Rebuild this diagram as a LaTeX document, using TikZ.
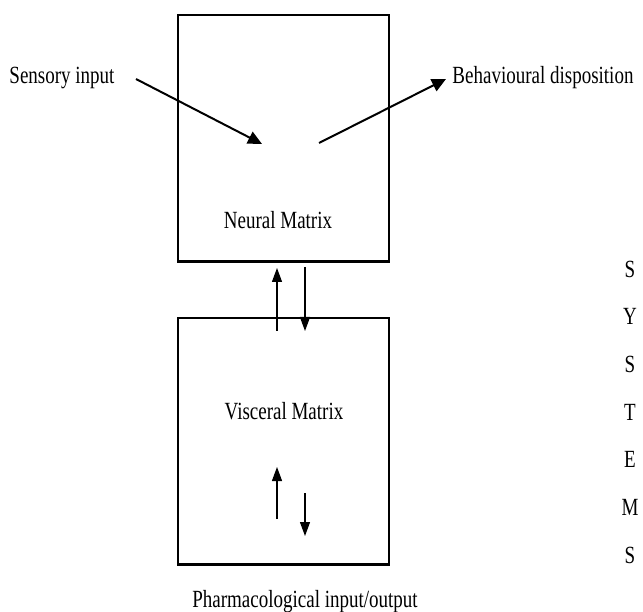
\documentclass[tikz,border=0pt]{standalone}
\usepackage{fontspec}
\setmainfont{Liberation Serif}
\usetikzlibrary{arrows.meta}
\newcommand{\tallt}[1]{\scalebox{1}[1.3]{#1}}
\begin{document}
\begin{tikzpicture}[x=1pt,y=-1pt,
  matrixbox/.style={draw,line width=1.2pt,minimum width=211pt,minimum height=246pt,inner sep=0pt},
  lbl/.style={font=\fontsize{19}{22}\selectfont,inner sep=0pt},
  bigarrow/.style={line width=2pt,-{Triangle[length=14pt,width=13pt]}},
  smallarrow/.style={line width=1.2pt,-{Triangle[length=14pt,width=10pt]}}]
\useasboundingbox (0,0) rectangle (643,612);
\node[matrixbox] (neural) at (283.5,138) {};
\node[matrixbox] (visceral) at (283.5,441) {};
\draw[line width=2.6pt] (neural.south west) -- (neural.south east);
\draw[line width=2.2pt] (visceral.south west) -- (visceral.south east);
\node[lbl] (nm) at (278,220) {\tallt{Neural Matrix}};
\node[lbl] (vm) at (284,411) {\tallt{Visceral Matrix}};
\node[lbl] (si) at (62,78) {\tallt{Sensory input}};
\node[lbl] (bd) at (543,78) {\tallt{Behavioural disposition}};
\node[lbl] (ph) at (305,602) {\tallt{Pharmacological input/output}};
\coordinate (a1) at (136,79);
\coordinate (a2) at (262,144);
\coordinate (b1) at (319,143);
\coordinate (b2) at (446,79);
\draw[bigarrow] (a1) -- (a2);
\draw[bigarrow] (b1) -- (b2);
\coordinate (u1) at (277,331); \coordinate (u2) at (277,268);
\coordinate (d1) at (305,267); \coordinate (d2) at (305,331);
\draw[smallarrow] (u1) -- (u2);
\draw[smallarrow] (d1) -- (d2);
\coordinate (u3) at (277,519); \coordinate (u4) at (277,467);
\coordinate (d3) at (305,493); \coordinate (d4) at (305,536);
\draw[smallarrow] (u3) -- (u4);
\draw[smallarrow] (d3) -- (d4);
\foreach \ch [count=\i from 0] in {S,Y,S,T,E,M,S}
  \node[lbl] (sys\i) at (630,269+47.7*\i) {\tallt{\ch}};
\end{tikzpicture}
\end{document}
